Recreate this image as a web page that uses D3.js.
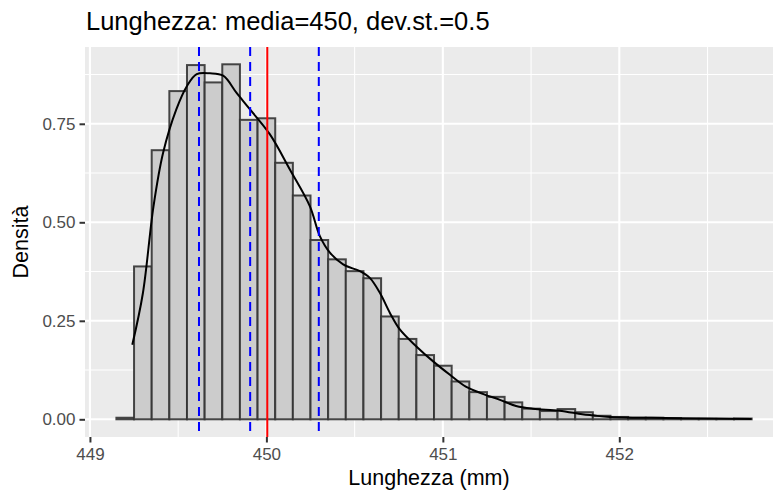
<!DOCTYPE html>
<meta charset="utf-8">
<style>
body { margin: 0; background: #fff; }
text { font-family: "Liberation Sans", Arial, sans-serif; }
.tick-label { fill: #4d4d4d; font-size: 17px; }
.axis-title { fill: #000; font-size: 21.5px; }
.title { fill: #000; font-size: 25.5px; }
.grid-major { stroke: #fff; stroke-width: 2.1; }
.grid-minor { stroke: #fff; stroke-width: 1.05; }
.bar { fill: #cccccc; stroke: #333; stroke-opacity: 0.9; stroke-width: 2; }
.dens { fill: none; stroke: #000; stroke-width: 2; }
</style>
<svg width="773" height="493"></svg>
<script src="https://d3js.org/d3.v7.min.js"></script>
<script>

var svg = d3.select("svg"),
    width = +svg.attr("width"),
    height = +svg.attr("height");

// bin left edges (binwidth 0.1) and density of each bin
var binLeft = [449.15, 449.25, 449.35, 449.45, 449.55, 449.65, 449.75, 449.85, 449.95,
               450.05, 450.15, 450.25, 450.35, 450.45, 450.55, 450.65, 450.75, 450.85, 450.95,
               451.05, 451.15, 451.25, 451.35, 451.45, 451.55, 451.65, 451.75, 451.85, 451.95,
               452.05, 452.15, 452.25, 452.35, 452.45, 452.55, 452.65];
var binDens = [0.004, 0.388, 0.683, 0.833, 0.899, 0.855, 0.901, 0.760, 0.764,
               0.651, 0.568, 0.455, 0.406, 0.376, 0.358, 0.261, 0.204, 0.163, 0.136,
               0.096, 0.069, 0.057, 0.043, 0.027, 0.021, 0.026, 0.018, 0.009, 0.006,
               0.004, 0.004, 0.003, 0.001, 0.001, 0.001, 0.002];
var binWidth = 0.1;

// kernel density curve
var densX = [449.24, 449.30, 449.36, 449.415, 449.49, 449.55, 449.605, 449.68, 449.755,
             449.83, 449.906, 450.02, 450.133, 450.246, 450.303, 450.36, 450.435, 450.53,
             450.586, 450.643, 450.70, 450.756, 450.85, 450.945, 451.04, 451.13, 451.23,
             451.32, 451.415, 451.51, 451.66, 451.79, 451.85, 451.946, 452.13, 452.34, 452.75];
var densY = [0.189, 0.32, 0.54, 0.677, 0.787, 0.846, 0.876, 0.878, 0.872,
             0.829, 0.787, 0.723, 0.634, 0.541, 0.465, 0.423, 0.393, 0.376,
             0.359, 0.321, 0.27, 0.228, 0.185, 0.147, 0.113, 0.083, 0.064,
             0.050, 0.034, 0.027, 0.022, 0.013, 0.010, 0.0056, 0.004, 0.003, 0.001];

var meanLine = 450.005;
var quantLines = [449.618, 449.908, 450.297];

var xTicks = [449, 450, 451, 452];
var xMinor = [449.5, 450.5, 451.5, 452.5];
var yTicks = [0, 0.25, 0.5, 0.75];
var yMinor = [0.125, 0.375, 0.625, 0.875];

var titleText = "Lunghezza: media=450, dev.st.=0.5";
var xTitle = "Lunghezza (mm)";
var yTitle = "Densità";

var panel = {left: 85, right: 773, top: 47, bottom: 437};

var x = d3.scaleLinear().domain([448.972, 452.871]).range([panel.left, panel.right]);
var y = d3.scaleLinear().domain([-0.0449, 0.9449]).range([panel.bottom, panel.top]);

svg.append("rect")
    .attr("x", panel.left).attr("y", panel.top)
    .attr("width", panel.right - panel.left).attr("height", panel.bottom - panel.top)
    .attr("fill", "#ebebeb");

var g = svg.append("g");

g.selectAll(".gx-min").data(xMinor).enter().append("line")
    .attr("class", "grid-minor")
    .attr("x1", d => x(d)).attr("x2", d => x(d))
    .attr("y1", panel.top).attr("y2", panel.bottom);
g.selectAll(".gy-min").data(yMinor).enter().append("line")
    .attr("class", "grid-minor")
    .attr("y1", d => y(d)).attr("y2", d => y(d))
    .attr("x1", panel.left).attr("x2", panel.right);
g.selectAll(".gx").data(xTicks).enter().append("line")
    .attr("class", "grid-major")
    .attr("x1", d => x(d)).attr("x2", d => x(d))
    .attr("y1", panel.top).attr("y2", panel.bottom);
g.selectAll(".gy").data(yTicks).enter().append("line")
    .attr("class", "grid-major")
    .attr("y1", d => y(d)).attr("y2", d => y(d))
    .attr("x1", panel.left).attr("x2", panel.right);

// histogram
g.selectAll(".bar").data(binLeft).enter().append("rect")
    .attr("class", "bar")
    .attr("x", d => x(d))
    .attr("width", d => x(d + binWidth) - x(d))
    .attr("y", (d, i) => y(binDens[i]))
    .attr("height", (d, i) => y(0) - y(binDens[i]));

// density
var pts = densX.map((d, i) => [d, densY[i]]);
g.append("path")
    .datum(pts)
    .attr("class", "dens")
    .attr("d", d3.line().x(d => x(d[0])).y(d => y(d[1])).curve(d3.curveCatmullRom));

// vertical lines
g.selectAll(".q").data(quantLines).enter().append("line")
    .attr("x1", d => x(d)).attr("x2", d => x(d))
    .attr("y1", panel.top).attr("y2", panel.bottom)
    .attr("stroke", "blue").attr("stroke-width", 2)
    .attr("stroke-dasharray", "9,6");
g.append("line")
    .attr("x1", x(meanLine)).attr("x2", x(meanLine))
    .attr("y1", panel.top).attr("y2", panel.bottom)
    .attr("stroke", "red").attr("stroke-width", 2);

// axes
var xAxis = svg.append("g").attr("transform", "translate(0," + panel.bottom + ")")
    .call(d3.axisBottom(x).tickValues(xTicks).tickSize(5.5).tickPadding(4).tickFormat(d3.format("d")));
var yAxis = svg.append("g").attr("transform", "translate(" + panel.left + ",0)")
    .call(d3.axisLeft(y).tickValues(yTicks).tickSize(5.5).tickPadding(4).tickFormat(d3.format(".2f")));
[xAxis, yAxis].forEach(function(a) {
  a.select(".domain").remove();
  a.selectAll(".tick line").attr("stroke", "#333").attr("stroke-width", 2);
  a.selectAll(".tick text").attr("class", "tick-label").attr("font-family", null).attr("font-size", null);
});
xAxis.selectAll(".tick text").attr("dy", "0.8em");

svg.append("text").attr("class", "title")
    .attr("x", panel.left + 1).attr("y", 30)
    .text(titleText);
svg.append("text").attr("class", "axis-title")
    .attr("x", (panel.left + panel.right) / 2).attr("y", 485)
    .attr("text-anchor", "middle")
    .text(xTitle);
svg.append("text").attr("class", "axis-title")
    .attr("transform", "translate(28," + (panel.top + panel.bottom) / 2 + ") rotate(-90)")
    .attr("text-anchor", "middle")
    .text(yTitle);

</script>
